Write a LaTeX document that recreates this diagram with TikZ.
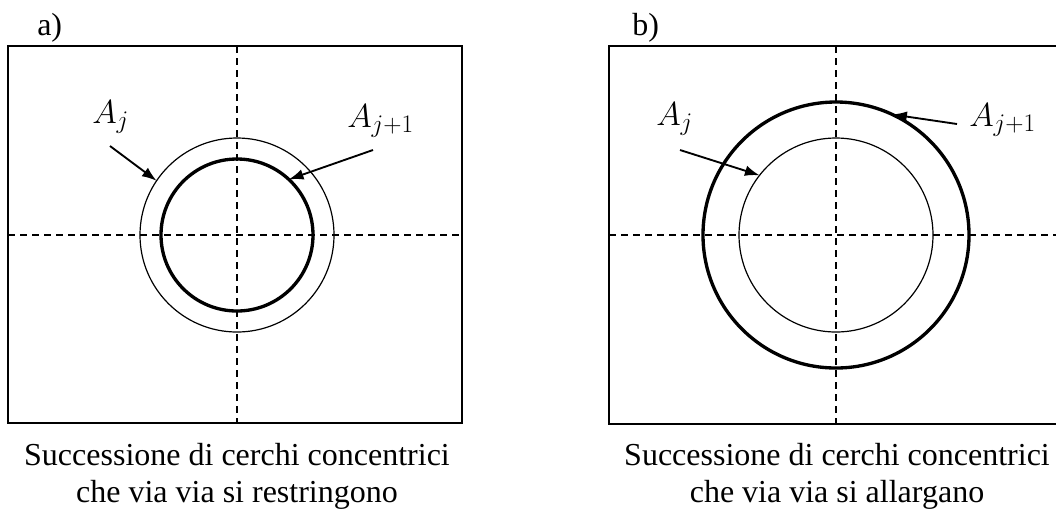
\documentclass[tikz,border=0pt]{standalone}
\usepackage{fix-cm}
\usepackage{fontspec}
\setmainfont{Liberation Serif}
\DeclareMathSizes{25}{25}{19}{15}
\usetikzlibrary{arrows.meta}
\tikzset{
  >=Latex,
  frame/.style={draw,line width=1.4pt},
  axis/.style={draw,line width=0.9pt,dash pattern=on 5.5pt off 3.5pt},
  thinring/.style={circle,draw,line width=0.9pt,inner sep=0pt,outer sep=0pt},
  thickring/.style={thinring,line width=2.5pt},
  pointer/.style={-{Latex[length=11pt,width=8pt]},line width=1.4pt},
  sym/.style={font=\fontsize{25}{30}\selectfont,inner sep=0pt,anchor=base west},
  tag/.style={font=\fontsize{24}{29}\selectfont,inner sep=0pt,anchor=base west},
  caption/.style={font=\fontsize{24}{27.75}\selectfont,align=center,inner sep=0pt,anchor=north},
}

\begin{document}
\begin{tikzpicture}[x=0.75pt,y=-0.75pt]
\useasboundingbox (0,0) rectangle (1056,512);

% a) rings that shrink
\node[tag] (taga) at (37,35) {a)};
\draw[frame] (8,46) rectangle (462,423);
\coordinate (ca) at (237,235);
\draw[axis] (237,46) -- (237,423);
\draw[axis] (8,235) -- (462,235);
\node[thinring,minimum size=145.5pt] (outerA) at (ca) {};
\node[thickring,minimum size=114pt] (innerA) at (ca) {};
\node[sym] (lblAj) at (92,123) {$A_j$};
\node[sym] (lblAjj) at (347,127) {$A_{j+1}$};
\coordinate (tailAj) at (110,146);
\coordinate (tailAjj) at (373,150);
\draw[pointer] (tailAj) -- (outerA.146);
\draw[pointer] (tailAjj) -- (innerA.47);
\node[caption] (capa) at (237,443) {Successione di cerchi concentrici\\che via via si restringono};

% b) rings that widen
\node[tag] (tagb) at (632,35) {b)};
\draw[frame] (1056,46) -- (609,46) -- (609,424) -- (1056,424);
\coordinate (cb) at (836,235);
\draw[axis] (836,46) -- (836,428);
\draw[axis] (609,235) -- (1056,235);
\node[thinring,minimum size=145.5pt] (innerB) at (cb) {};
\node[thickring,minimum size=199.5pt] (outerB) at (cb) {};
\node[sym] (lblBj) at (656,125) {$A_j$};
\node[sym] (lblBjj) at (969,126) {$A_{j+1}$};
\coordinate (tailBj) at (680,150);
\coordinate (tailBjj) at (957,124);
\draw[pointer] (tailBj) -- (innerB.142);
\draw[pointer] (tailBjj) -- (outerB.65);
\node[caption] (capb) at (837,443) {Successione di cerchi concentrici\\che via via si allargano};

\end{tikzpicture}
\end{document}
